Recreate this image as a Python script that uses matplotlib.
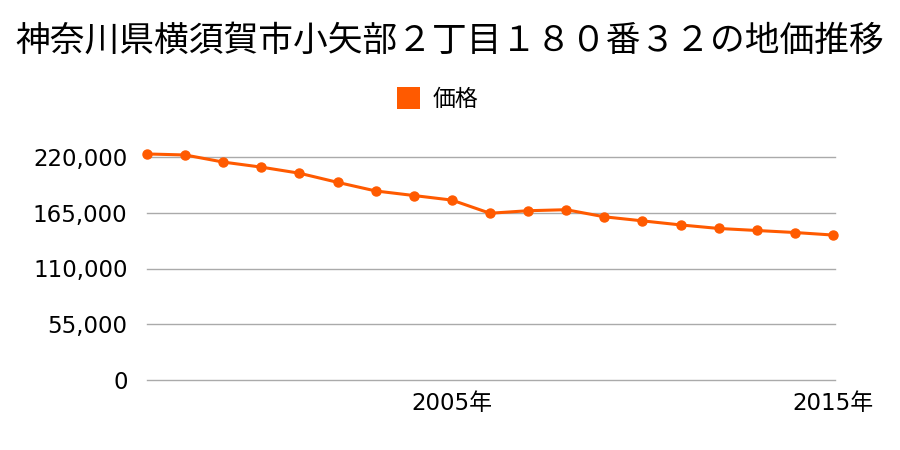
import matplotlib
matplotlib.use("Agg")
import matplotlib.pyplot as plt
from matplotlib.patches import Rectangle

plt.rcParams['font.family'] = ['Noto Sans CJK JP', 'DejaVu Sans']

years = list(range(1997, 2016))
prices = [223000, 222000, 215000, 210000, 204000, 195000, 186500, 182000, 177500,
          164500, 167000, 168000, 161000, 157000, 153000, 149500, 147500, 145500, 143000]
yticks = [0, 55000, 110000, 165000, 220000]
ytick_labels = ["0", "55,000", "110,000", "165,000", "220,000"]
xticks = [2005, 2015]
xtick_labels = ["2005年", "2015年"]
title = "神奈川県横須賀市小矢部２丁目１８０番３２の地価推移"
series_name = "価格"
color = "#ff5a00"
tick_fonts = ['DejaVu Sans', 'Noto Sans CJK JP']

fig = plt.figure(figsize=(9, 4.5), dpi=100)
ax = fig.add_axes([147/900, 1-380/450, (835-147)/900, (380-157)/450])
ax.plot(years, prices, color=color, lw=2.2, marker='o', ms=6.5, clip_on=False, zorder=3)
ax.set_xlim(1997, 2015 + 2/38)
ax.set_ylim(0, 220000)
ax.set_yticks(yticks)
ax.set_yticklabels(ytick_labels, fontsize=16.5, family=tick_fonts)
ax.set_xticks(xticks)
ax.set_xticklabels(xtick_labels, fontsize=16.5, family=tick_fonts)
ax.grid(axis='y', color='#aaaaaa', lw=1)
for gl in ax.get_ygridlines():
    gl.set_clip_on(False)
ax.tick_params(axis='y', length=0, pad=14)
ax.tick_params(axis='x', length=0, pad=9)
for s in ax.spines.values():
    s.set_visible(False)
ax.set_axisbelow(True)

fig.text(0.5, 1-41/450, title, ha='center', va='center', fontsize=25)
fig.patches.append(Rectangle((397/900, 1-109/450), 23/900, 22/450, transform=fig.transFigure,
                             facecolor=color, edgecolor='none'))
fig.text(433/900, 1-99/450, series_name, ha='left', va='center', fontsize=16.5)

fig.savefig("out.png", dpi=100)
